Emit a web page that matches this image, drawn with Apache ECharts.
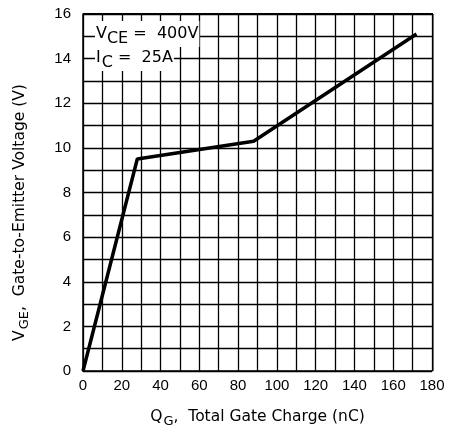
<!DOCTYPE html>
<html>
<head>
<meta charset="utf-8">
<script src="https://cdn.jsdelivr.net/npm/echarts@6/dist/echarts.min.js"></script>
<style>
  html, body { margin: 0; padding: 0; background: #fff; }
  #main { width: 452px; height: 438px; }
</style>
</head>
<body>
<div id="main"></div>
<script>
// gate charge curve
var qg = [0, 28, 88, 172];
var vge = [0, 9.5, 10.3, 15.1];
var xTicks = [0, 20, 40, 60, 80, 100, 120, 140, 160, 180];
var yTicks = [0, 2, 4, 6, 8, 10, 12, 14, 16];

var dom = document.getElementById('main');
var myChart = echarts.init(dom);
var font = 'Liberation Sans';
var nameFont = 'DejaVu Sans';

var pts = [];
for (var i = 0; i < qg.length; i++) {
    pts.push([qg[i], vge[i]]);
}

var option = {
    backgroundColor: '#fff',
    animation: false,
    grid: { left: 83, top: 14, right: 20, bottom: 67 },
    xAxis: {
        type: 'value',
        min: xTicks[0], max: xTicks[xTicks.length - 1], interval: 20,
        axisLine: { show: true, lineStyle: { color: '#000', width: 1.5 } },
        axisTick: { show: false },
        axisLabel: { color: '#000', fontFamily: font, fontSize: 15, margin: 7 },
        splitLine: { show: true, lineStyle: { color: '#000', width: 1.3 } },
        minorTick: { show: false, splitNumber: 2 },
        minorSplitLine: { show: true, lineStyle: { color: '#000', width: 1.3 } },
        name: '{m|Q}{s|G}{m|,  Total Gate Charge (nC)}',
        nameLocation: 'middle',
        nameGap: 34,
        nameTextStyle: {
            color: '#000', fontFamily: nameFont,
            rich: {
                m: { fontSize: 15.5, fontFamily: nameFont, color: '#000' },
                s: { fontSize: 13, fontFamily: nameFont, color: '#000', padding: [10, 0, 0, 1] }
            }
        }
    },
    yAxis: {
        type: 'value',
        min: yTicks[0], max: yTicks[yTicks.length - 1], interval: 2,
        axisLine: { show: true, lineStyle: { color: '#000', width: 1.5 } },
        axisTick: { show: false },
        axisLabel: { color: '#000', fontFamily: font, fontSize: 15, margin: 12 },
        splitLine: { show: true, lineStyle: { color: '#000', width: 1.3 } },
        minorTick: { show: false, splitNumber: 2 },
        minorSplitLine: { show: true, lineStyle: { color: '#000', width: 1.3 } },
        name: '{m|V}{s|GE}{m|,  Gate-to-Emitter Voltage (V)}',
        nameLocation: 'middle',
        nameRotate: 90,
        nameGap: 52,
        nameTextStyle: {
            color: '#000', fontFamily: nameFont,
            padding: [0, 40, 0, 0],
            rich: {
                m: { fontSize: 15.5, fontFamily: nameFont, color: '#000' },
                s: { fontSize: 13, fontFamily: nameFont, color: '#000', padding: [10, 0, 0, 1] }
            }
        }
    },
    graphic: [
        {
            type: 'rect', left: 432, top: 14, z: 10,
            shape: { width: 1.5, height: 357 }, style: { fill: '#000' }
        },
        {
            type: 'rect', left: 83, top: 13, z: 10,
            shape: { width: 350, height: 1.5 }, style: { fill: '#000' }
        },
        {
            type: 'text', left: 95, top: 21, z: 20,
            style: {
                text: '{m|V}{s|CE}{m| =  400V}',
                backgroundColor: '#fff',
                padding: [0, 1, 0, 1],
                rich: {
                    m: { fontSize: 16, fontFamily: nameFont, fill: '#000' },
                    s: { fontSize: 16, fontFamily: nameFont, fill: '#000', padding: [10, 0, 0, 0] }
                }
            }
        },
        {
            type: 'text', left: 95, top: 45, z: 20,
            style: {
                text: '{m|I}{s|C}{m| =  25A}',
                backgroundColor: '#fff',
                padding: [0, 1, 0, 1],
                rich: {
                    m: { fontSize: 16, fontFamily: nameFont, fill: '#000' },
                    s: { fontSize: 16, fontFamily: nameFont, fill: '#000', padding: [10, 0, 0, 1] }
                }
            }
        }
    ],
    series: [
        {
            name: 'VGE',
            type: 'line',
            data: pts,
            symbol: 'none',
            z: 30,
            lineStyle: { color: '#000', width: 3.5 }
        }
    ]
};

if (option && typeof option === "object") {
    myChart.setOption(option, true);
}
</script>
</body>
</html>
